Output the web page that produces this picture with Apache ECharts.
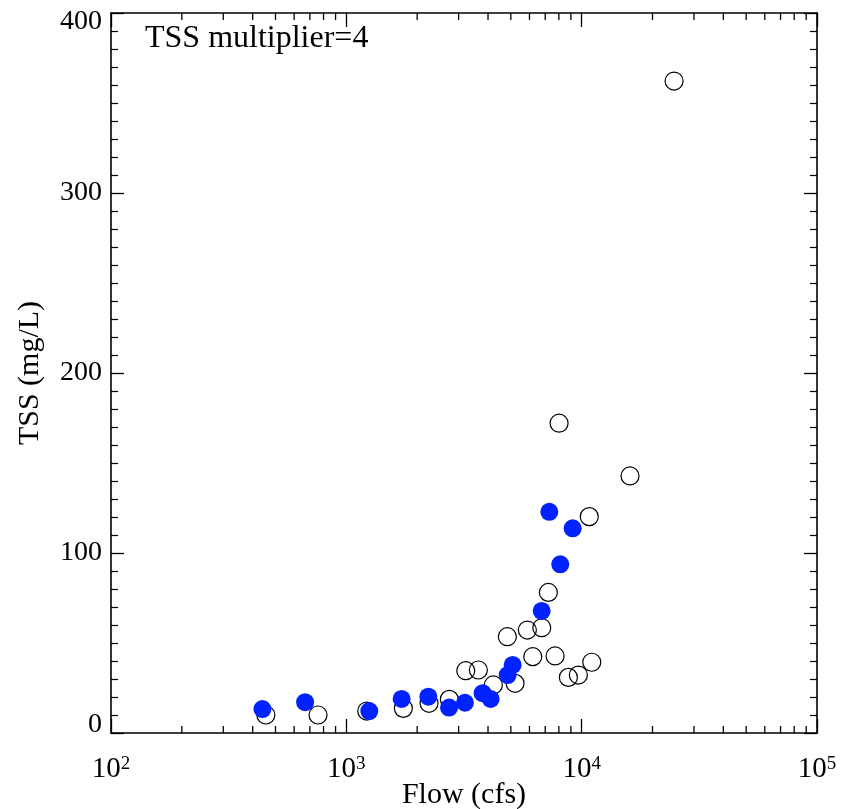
<!DOCTYPE html>
<html>
<head>
<meta charset="utf-8">
<script src="https://cdn.jsdelivr.net/npm/echarts@6/dist/echarts.min.js"></script>
<style>html,body{margin:0;padding:0;background:#fff}#c{width:849px;height:809px}</style>
</head>
<body>
<div id="c"></div>
<script>
// Open circles: [flow (cfs), TSS (mg/L)]
var openPoints = [
  [455, 10.0], [758, 10.0], [1221, 12.2], [1747, 13.7], [2246, 16.5], [2740, 18.7],
  [3217, 34.6], [3639, 35.0], [4214, 26.7], [4833, 53.5], [5212, 27.6], [5878, 57.2],
  [6197, 42.4], [6768, 58.5], [7220, 78.1], [7709, 42.8], [8017, 172.1], [8781, 30.9],
  [9683, 32.2], [11040, 39.3], [10773, 120.2], [16050, 142.8], [24700, 362.2]
];
// Filled blue circles: [flow (cfs), TSS (mg/L)]
var filledPoints = [
  [440, 13.3], [668, 17.1], [1252, 12.2], [1718, 18.9], [2231, 20.2], [2732, 14.1],
  [3192, 16.8], [3795, 22.1], [4104, 18.9], [4848, 32.2], [5090, 37.8], [6761, 67.8],
  [7285, 122.9], [8110, 93.7], [9156, 113.7]
];
// Log-axis minor tick positions (2..9 per decade)
var xMinorTicks = [200,300,400,500,600,700,800,900,2000,3000,4000,5000,6000,7000,8000,9000,
  20000,30000,40000,50000,60000,70000,80000,90000];
var xMin = 100, xMax = 100000;
var yMin = 0, yMax = 400, yStep = 100;
var annotation = 'TSS multiplier=4';
var xName = 'Flow (cfs)';
var yName = 'TSS (mg/L)';

var FONT = 'Liberation Serif';
var chart = echarts.init(document.getElementById('c'));

function axisBase(extra) {
  var a = {
    axisLine: {show: true, onZero: false, lineStyle: {color: '#000', width: 1.6}},
    axisTick: {show: true, inside: true, length: 14, lineStyle: {color: '#000', width: 1.3}},
    splitLine: {show: false}
  };
  for (var k in extra) a[k] = extra[k];
  return a;
}

var bottomTicks = xMinorTicks.map(function (v) { return [v, yMin]; });
var topTicks = xMinorTicks.map(function (v) { return [v, yMax]; });

chart.setOption({
  animation: false,
  backgroundColor: '#fff',
  title: {
    text: annotation, left: 145, top: 23, padding: 0,
    textStyle: {fontFamily: FONT, fontSize: 32, fontWeight: 'normal', color: '#000'}
  },
  grid: {left: 111, right: 32, top: 13, bottom: 76, containLabel: false, outerBoundsMode: 'none'},
  xAxis: [
    axisBase({
      type: 'log', logBase: 10, min: xMin, max: xMax, position: 'bottom',
      name: xName, nameLocation: 'middle', nameGap: 47, nameMoveOverlap: false,
      nameTextStyle: {fontFamily: FONT, fontSize: 30, color: '#000'},
      axisLabel: {
        margin: 22, color: '#000',
        formatter: function (v) {
          var e = Math.round(Math.log10(v));
          return '{b|10}{s|' + e + '}';
        },
        rich: {
          b: {fontFamily: FONT, fontSize: 29, color: '#000'},
          s: {fontFamily: FONT, fontSize: 19, color: '#000', verticalAlign: 'top'}
        }
      }
    }),
    axisBase({
      type: 'log', logBase: 10, min: xMin, max: xMax, position: 'top',
      axisLabel: {show: false}
    })
  ],
  yAxis: [
    axisBase({
      type: 'value', min: yMin, max: yMax, interval: yStep, position: 'left',
      name: yName, nameLocation: 'middle', nameGap: 66, nameMoveOverlap: false,
      nameTextStyle: {fontFamily: FONT, fontSize: 30, color: '#000'},
      axisTick: {show: true, inside: true, length: 13, lineStyle: {color: '#000', width: 1.3}},
      minorTick: {show: true, splitNumber: 10, length: 7, lineStyle: {color: '#000', width: 1.2}},
      axisLabel: {
        margin: 9, color: '#000', fontFamily: FONT, fontSize: 28,
        formatter: function (v) {
          if (v === yMin) return '{lo|' + v + '}';
          if (v === yMax) return '{hi|' + v + '}';
          return '{n|' + v + '}';
        },
        rich: {
          n: {fontFamily: FONT, fontSize: 28, color: '#000'},
          lo: {fontFamily: FONT, fontSize: 28, color: '#000', padding: [0, 0, 16, 0]},
          hi: {fontFamily: FONT, fontSize: 28, color: '#000', padding: [18, 0, 0, 0]}
        }
      }
    }),
    axisBase({
      type: 'value', min: yMin, max: yMax, interval: yStep, position: 'right',
      axisTick: {show: true, inside: true, length: 13, lineStyle: {color: '#000', width: 1.3}},
      minorTick: {show: true, splitNumber: 10, length: 7, lineStyle: {color: '#000', width: 1.2}},
      axisLabel: {show: false}
    })
  ],
  series: [
    {
      type: 'scatter', data: bottomTicks, xAxisIndex: 0, yAxisIndex: 0, silent: true, clip: false,
      symbol: 'rect', symbolSize: [1.3, 7], symbolOffset: [0, -3.5],
      itemStyle: {color: '#000', opacity: 1}, z: 1
    },
    {
      type: 'scatter', data: topTicks, xAxisIndex: 0, yAxisIndex: 0, silent: true, clip: false,
      symbol: 'rect', symbolSize: [1.3, 7], symbolOffset: [0, 3.5],
      itemStyle: {color: '#000', opacity: 1}, z: 1
    },
    {
      type: 'scatter', data: openPoints, xAxisIndex: 0, yAxisIndex: 0,
      symbol: 'circle', symbolSize: 18,
      itemStyle: {color: 'rgba(0,0,0,0)', borderColor: '#000', borderWidth: 1.2, opacity: 1}, z: 2
    },
    {
      type: 'scatter', data: filledPoints, xAxisIndex: 0, yAxisIndex: 0,
      symbol: 'circle', symbolSize: 18,
      itemStyle: {color: '#0022ff', opacity: 1}, z: 3
    }
  ]
});
</script>
</body>
</html>
